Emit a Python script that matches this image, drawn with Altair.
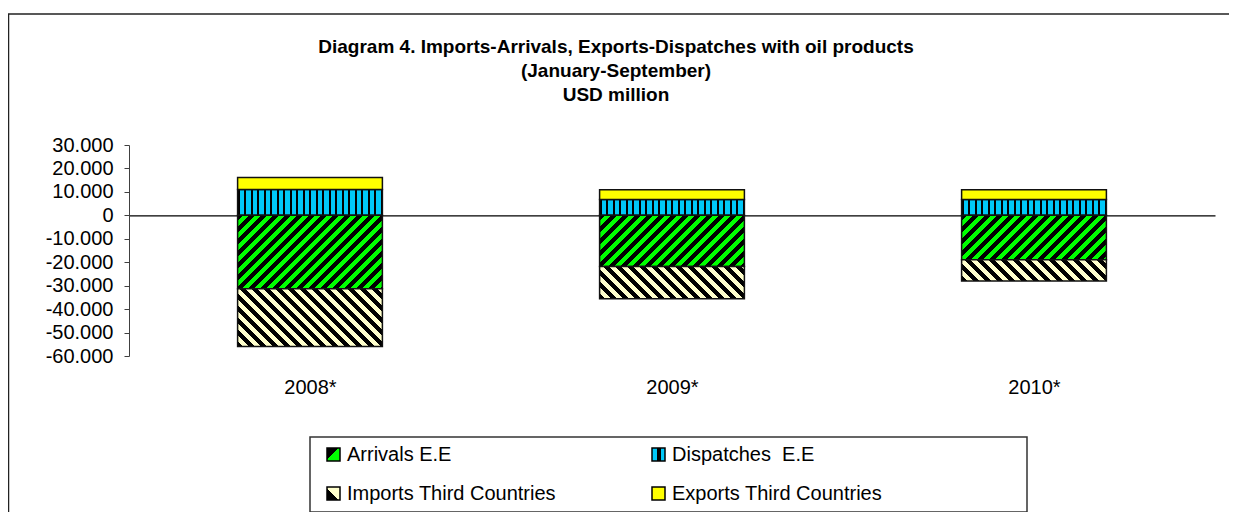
import math
import altair as alt
import pandas as pd

# ---------------- data ----------------
years = ["2008*", "2009*", "2010*"]
series = ["Arrivals E.E", "Dispatches  E.E", "Imports Third Countries", "Exports Third Countries"]
arrivals = [-31300, -21800, -18900]
dispatches = [11000, 6800, 6800]
imports_tc = [-24700, -13800, -9100]
exports_tc = [5100, 4100, 4100]
y_ticks = [-60000, -50000, -40000, -30000, -20000, -10000, 0, 10000, 20000, 30000]
title_lines = [
    "Diagram 4. Imports-Arrivals, Exports-Dispatches with oil products",
    "(January-September)",
    "USD million",
]

# ---------------- layout / style ----------------
FONT = "Liberation Sans"
W, H = 1086, 211
YMIN, YMAX = -60000, 30000
P_IN, P_OUT = 0.6, 0.3
step = W / (len(years) - P_IN + 2 * P_OUT)
bw = step * (1 - P_IN)
pxu = H / (YMAX - YMIN)
zero_off = H * (0 - YMIN) / (YMAX - YMIN)

GREEN, BLUE, CREAM, YELLOW, BLACK = "#00FF00", "#00C8F8", "#FFFFCC", "#FFFF00", "#000000"

# stacked bounds (positives and negatives stacked separately)
rows = []
for i, yr in enumerate(years):
    rows.append(dict(year=yr, series=series[1], y0=0, y1=dispatches[i]))
    rows.append(dict(year=yr, series=series[3], y0=dispatches[i], y1=dispatches[i] + exports_tc[i]))
    rows.append(dict(year=yr, series=series[0], y0=0, y1=arrivals[i]))
    rows.append(dict(year=yr, series=series[2], y0=arrivals[i], y1=arrivals[i] + imports_tc[i]))
df = pd.DataFrame(rows)

_gid = [0]


def stripes(bg, fg, n_periods, frac, x1, y1, x2, y2):
    _gid[0] += 1
    period = 1.0 / n_periods
    stops = []
    k = 0
    while k * period < 1.0:
        s = k * period
        segs = [(s, s + frac * period, fg), (s + frac * period, s + period, bg)]
        for a, b, c in segs:
            a2, b2 = max(0.0, min(1.0, a)), max(0.0, min(1.0, b))
            if b2 <= a2:
                continue
            stops.append({"offset": round(a2, 5), "color": c})
            stops.append({"offset": round(b2, 5), "color": c})
        k += 1
    return {"gradient": "linear", "id": f"hatch{_gid[0]}", "x1": x1, "y1": y1,
            "x2": x2, "y2": y2, "stops": stops}


def diag_fwd(w, h, bg, fg, ph, frac):
    # "/" stripes at 45 degrees
    c = (w + h) / (w * w + h * h)
    return stripes(bg, fg, (w + h) / ph, frac, 0, 0, w * c, h * c)


def diag_back(w, h, bg, fg, ph, frac):
    # "\" stripes at 45 degrees
    c = (w + h) / (w * w + h * h)
    return stripes(bg, fg, (w + h) / ph, frac, 0, 1, w * c, 1 - h * c)


def vert(w, bg, fg, ph, frac):
    return stripes(bg, fg, w / ph, frac, 0, 0, 1, 0)


label_expr = "(datum.value < 0 ? '-' : '') + replace(format(abs(datum.value), ','), ',', '.')"

X = alt.X("year:N", sort=years,
          scale=alt.Scale(domain=years, paddingInner=P_IN, paddingOuter=P_OUT),
          axis=alt.Axis(title=None, orient="bottom", offset=-zero_off, domainColor=BLACK,
                        domainWidth=1.2, tickColor=BLACK, tickSize=5, tickBand="extent",
                        labelPadding=157, labelAngle=0, labelFontSize=20, labelColor=BLACK,
                        labelFont=FONT, labelOverlap=False, grid=False))
Y = alt.Y("y0:Q", scale=alt.Scale(domain=[YMIN, YMAX], nice=False, zero=False),
          axis=alt.Axis(title=None, values=y_ticks, labelExpr=label_expr, tickSize=5,
                        labelPadding=11, domainColor="#404040", tickColor="#404040",
                        labelFontSize=20, labelColor=BLACK, labelFont=FONT, grid=False,
                        labelOverlap=False))

layers = []

# outer chart frame
dummy = pd.DataFrame({"d": [0]})
layers.append(alt.Chart(dummy).mark_rect(filled=False, stroke="#222222", strokeWidth=1.5).encode(
    x=alt.value(-120.5), x2=alt.value(W + 300), y=alt.value(-131), y2=alt.value(H + 400)))

# title (three centred bold lines)
TITLE_X = 487
title_y = [-98, -74, -50]
for line, ty in zip(title_lines, title_y):
    layers.append(alt.Chart(dummy).mark_text(align="center", baseline="middle", fontSize=19,
                                             fontWeight="bold", font=FONT, color=BLACK).encode(
        x=alt.value(TITLE_X), y=alt.value(ty), text=alt.value(line)))

# bars
for _, r in df.iterrows():
    h = abs(r.y1 - r.y0) * pxu
    if r.series == series[0]:
        fill = diag_fwd(bw, h, GREEN, BLACK, 12, 0.45)
    elif r.series == series[1]:
        fill = vert(bw, BLUE, BLACK, 6.5, 0.3)
    elif r.series == series[2]:
        fill = diag_back(bw, h, CREAM, BLACK, 12, 0.45)
    else:
        fill = YELLOW
    sub = df[(df.year == r.year) & (df.series == r.series)]
    layers.append(alt.Chart(sub).mark_bar(stroke="#111111", strokeWidth=1.5).encode(
        x=X, y=Y, y2="y1:Q", fill=alt.value(fill)))

# legend box
LX0, LY0, LX1, LY1 = 181, 292, 898, 367
layers.append(alt.Chart(dummy).mark_rect(fill="white", stroke="#333333", strokeWidth=1.5).encode(
    x=alt.value(LX0), x2=alt.value(LX1), y=alt.value(LY0), y2=alt.value(LY1)))

sym_fills = [
    diag_fwd(13, 13, GREEN, BLACK, 26, 0.45),
    {"gradient": "linear", "id": "legdisp", "x1": 0, "y1": 0, "x2": 1, "y2": 0, "stops": [
        {"offset": 0, "color": BLUE}, {"offset": 0.38, "color": BLUE},
        {"offset": 0.38, "color": BLACK}, {"offset": 0.66, "color": BLACK},
        {"offset": 0.66, "color": BLUE}, {"offset": 1, "color": BLUE}]},
    diag_back(13, 13, CREAM, BLACK, 26, 0.45),
    YELLOW,
]
col_x = [198, 523]
row_y = [303, 342]
for idx, name in enumerate(series):
    cx = col_x[idx % 2]
    ry = row_y[idx // 2]
    shown = name.replace("  ", " \u00a0")  # keep the double space visible in SVG
    layers.append(alt.Chart(dummy).mark_rect(stroke=BLACK, strokeWidth=1.5).encode(
        x=alt.value(cx), x2=alt.value(cx + 13), y=alt.value(ry), y2=alt.value(ry + 13),
        fill=alt.value(sym_fills[idx])))
    layers.append(alt.Chart(dummy).mark_text(align="left", baseline="middle", fontSize=20,
                                             font=FONT, color=BLACK).encode(
        x=alt.value(cx + 20), y=alt.value(ry + 7), text=alt.value(shown)))

chart = alt.layer(*layers).properties(
    width=W, height=H,
    autosize=alt.AutoSizeParams(type="none"),
    padding={"left": 121, "top": 137, "right": 14, "bottom": 156},
    background="white",
).configure_view(stroke=None)

chart.save("out.html", embed_options={"renderer": "svg", "actions": False})
